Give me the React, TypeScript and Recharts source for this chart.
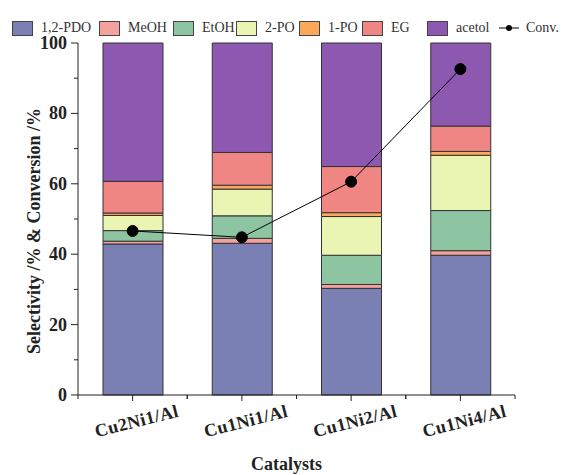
import React from "react";
import {
  ComposedChart,
  Bar,
  Line,
  XAxis,
  YAxis,
  Legend,
} from "recharts";

// catalysts and product selectivities (%)
const catalysts = ["Cu2Ni1/Al", "Cu1Ni1/Al", "Cu1Ni2/Al", "Cu1Ni4/Al"];
const pdo = [42.9, 43.1, 30.3, 39.7];
const meoh = [0.8, 1.4, 1.1, 1.3];
const etoh = [3.0, 6.4, 8.3, 11.4];
const po2 = [4.3, 7.6, 11.0, 15.7];
const po1 = [0.7, 1.1, 1.1, 1.1];
const eg = [9.0, 9.3, 13.1, 7.2];
const acetol = [39.3, 31.1, 35.1, 23.6];
const conversion = [46.6, 44.8, 60.6, 92.6];
const yTicks = [0, 10, 20, 30, 40, 50, 60, 70, 80, 90, 100];

const series = [
  { key: "pdo", name: "1,2-PDO", color: "#7a80b4" },
  { key: "meoh", name: "MeOH", color: "#f5a19d" },
  { key: "etoh", name: "EtOH", color: "#8dc4a2" },
  { key: "po2", name: "2-PO", color: "#ebf5b3" },
  { key: "po1", name: "1-PO", color: "#fba85a" },
  { key: "eg", name: "EG", color: "#f08683" },
  { key: "acetol", name: "acetol", color: "#8d58b0" },
];

// legend item widths so the entries sit where the original has them
const legendWidths = [87, 74, 63, 63, 63, 65, 72];

const data = catalysts.map((name, i) => ({
  name,
  pdo: pdo[i],
  meoh: meoh[i],
  etoh: etoh[i],
  po2: po2[i],
  po1: po1[i],
  eg: eg[i],
  acetol: acetol[i],
  conv: conversion[i],
}));

const FONT = "'Liberation Serif', 'Times New Roman', serif";
const INK = "#222";

function YTick(props: any) {
  const { x, y, payload } = props;
  const major = payload.value % 20 === 0;
  return (
    <g>
      <line x1={x - (major ? 7 : 4)} x2={x} y1={y} y2={y} stroke={INK} />
      {major && (
        <text
          x={x - 11}
          y={y}
          textAnchor="end"
          dominantBaseline="central"
          fontFamily={FONT}
          fontWeight="bold"
          fontSize={18}
          fill={INK}
        >
          {payload.value}
        </text>
      )}
    </g>
  );
}

function XTick(props: any) {
  const { x, y, payload } = props;
  const off = payload.offset || 54.6;
  return (
    <g>
      <line x1={x} x2={x} y1={y} y2={y + 6} stroke={INK} />
      <line x1={x - off} x2={x - off} y1={y} y2={y + 4} stroke={INK} />
      <line x1={x + off} x2={x + off} y1={y} y2={y + 4} stroke={INK} />
      <text
        transform={`translate(${x + 4}, ${y + 26}) rotate(-14)`}
        textAnchor="middle"
        dominantBaseline="central"
        fontFamily={FONT}
        fontWeight="bold"
        fontSize={18}
        letterSpacing={0.4}
        fill={INK}
      >
        {payload.value}
      </text>
    </g>
  );
}

function LegendContent() {
  return (
    <div
      style={{
        display: "flex",
        alignItems: "center",
        fontFamily: FONT,
        fontSize: 14,
        color: "#333",
        paddingLeft: 12,
        paddingTop: 5,
        whiteSpace: "nowrap",
      }}
    >
      {series.map((s, i) => (
        <div key={s.key} style={{ display: "flex", alignItems: "center", width: legendWidths[i] }}>
          <span
            style={{
              display: "inline-block",
              width: 19,
              height: 13,
              background: s.color,
              border: "1px solid #444",
              marginRight: 8,
            }}
          />
          <span style={{ fontFamily: FONT }}>{s.name}</span>
        </div>
      ))}
      <div style={{ display: "flex", alignItems: "center" }}>
        <svg width={20} height={10} style={{ marginRight: 7 }}>
          <line x1={0} x2={20} y1={5} y2={5} stroke="#000" />
          <circle cx={10} cy={5} r={3} fill="#000" />
        </svg>
        <span style={{ fontFamily: FONT }}>Conv.</span>
      </div>
    </div>
  );
}

export default function App() {
  return (
    <div style={{ width: 564, height: 475, background: "#fff" }}>
      <style>{`body{margin:0}`}</style>
      <ComposedChart
        width={564}
        height={475}
        data={data}
        margin={{ top: 43, right: 49, bottom: 0, left: 0 }}
        barSize={60}
      >
        <XAxis
          dataKey="name"
          height={80}
          tickSize={0}
          tickMargin={0}
          tick={<XTick />}
          axisLine={{ stroke: INK }}
          tickLine={false}
          interval={0}
          label={{
            value: "Catalysts",
            position: "insideBottom",
            offset: 5,
            dx: -10,
            fontFamily: FONT,
            fontWeight: "bold",
            fontSize: 18,
            fill: INK,
          }}
        />
        <XAxis
          xAxisId="top"
          dataKey="name"
          orientation="top"
          height={0}
          tick={false}
          tickLine={false}
          axisLine={{ stroke: "#888" }}
        />
        <YAxis
          width={78}
          domain={[0, 100]}
          ticks={yTicks}
          interval={0}
          tickSize={0}
          tickMargin={0}
          tick={<YTick />}
          tickLine={false}
          axisLine={{ stroke: INK }}
          label={{
            value: "Selectivity /% & Conversion /%",
            angle: -90,
            position: "center",
            dx: -5,
            dy: 12,
            fontFamily: FONT,
            fontWeight: "bold",
            fontSize: 18,
            fill: INK,
          }}
        />
        <YAxis
          yAxisId="right"
          orientation="right"
          width={0}
          domain={[0, 100]}
          tick={false}
          tickLine={false}
          axisLine={{ stroke: INK }}
        />
        <Legend
          verticalAlign="middle"
          align="center"
          layout="horizontal"
          content={<LegendContent />}
          wrapperStyle={{ position: "absolute", top: 15, left: 0, width: 564 }}
        />
        {series.map((s) => (
          <Bar
            key={s.key}
            dataKey={s.key}
            name={s.name}
            stackId="sel"
            fill={s.color}
            stroke="#333"
            strokeWidth={1}
            isAnimationActive={false}
          />
        ))}
        <Line
          dataKey="conv"
          name="Conv."
          stroke="#000"
          strokeWidth={1}
          dot={{ r: 5.5, fill: "#000", stroke: "#000" }}
          isAnimationActive={false}
        />
      </ComposedChart>
    </div>
  );
}
